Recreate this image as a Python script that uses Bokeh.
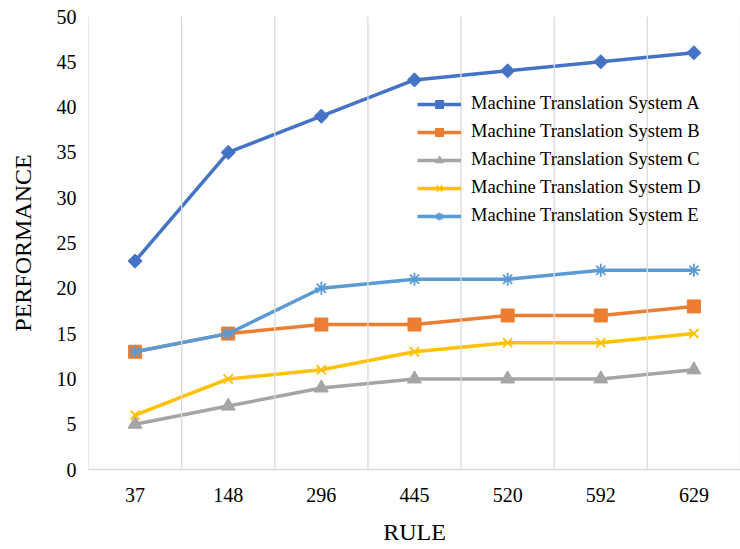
import math
from bokeh.plotting import figure
from bokeh.models import FactorRange, Range1d, Span, FixedTicker, Legend
from bokeh.embed import file_html
from bokeh.resources import INLINE

rules = ["37", "148", "296", "445", "520", "592", "629"]
sys_a = [23, 35, 39, 43, 44, 45, 46]
sys_b = [13, 15, 16, 16, 17, 17, 18]
sys_c = [5, 7, 9, 10, 10, 10, 11]
sys_d = [6, 10, 11, 13, 14, 14, 15]
sys_e = [13, 15, 20, 21, 21, 22, 22]
names = ["Machine Translation System A", "Machine Translation System B",
         "Machine Translation System C", "Machine Translation System D",
         "Machine Translation System E"]
y_ticks = [0, 5, 10, 15, 20, 25, 30, 35, 40, 45, 50]

FONT = "Liberation Serif"

p = figure(width=740, height=549, x_range=FactorRange(*rules, range_padding=0),
           y_range=Range1d(0, 50), output_backend="svg", toolbar_location=None,
           min_border_left=88, min_border_right=0, min_border_top=16, min_border_bottom=80)
p.outline_line_color = None
p.background_fill_color = "white"
p.border_fill_color = "white"
p.xgrid.visible = False
p.ygrid.visible = False

for i in range(len(rules) + 1):
    p.add_layout(Span(location=i, dimension="height", line_color="#d9d9d9", line_width=1.3))

p.yaxis.ticker = FixedTicker(ticks=y_ticks)
for ax in (p.xaxis[0], p.yaxis[0]):
    ax.major_tick_line_color = None
    ax.minor_tick_line_color = None
    ax.axis_line_color = "#d9d9d9"
    ax.axis_line_width = 1.3
    ax.major_label_text_font = FONT
    ax.major_label_text_font_size = "20px"
    ax.major_label_text_color = "#000000"
    ax.axis_label_text_font = FONT
    ax.axis_label_text_font_size = "24px"
    ax.axis_label_text_font_style = "normal"
    ax.axis_label_text_color = "#000000"
p.yaxis.axis_line_color = None
p.xaxis.axis_label = "RULE"
p.yaxis.axis_label = "PERFORMANCE"
p.xaxis.major_label_standoff = 12
p.xaxis.axis_label_standoff = 14
p.yaxis.major_label_standoff = 6
p.yaxis.axis_label_standoff = 18

series = [
    (sys_a, "#4472C4", "square", 10, math.pi / 4),
    (sys_b, "#ED7D31", "square", 13, 0),
    (sys_c, "#A5A5A5", "triangle", 14, 0),
    (sys_d, "#FFC000", "x", 13, 0),
    (sys_e, "#5B9BD5", "asterisk", 13, 0),
]
items = []
for (vals, color, marker, size, ang), name in zip(series, names):
    l = p.line(rules, vals, line_color=color, line_width=3.5)
    if marker in ("x", "asterisk"):
        s = p.scatter(rules, vals, marker=marker, size=size, line_color=color,
                      line_width=1.8, fill_color=None)
    else:
        s = p.scatter(rules, vals, marker=marker, size=size, angle=ang,
                      line_color=color, fill_color=color)
    items.append((name, [l, s]))

legend = Legend(items=items, location=(329, 243), orientation="vertical",
                background_fill_alpha=0, border_line_color=None,
                label_text_font=FONT, label_text_font_size="18.5px",
                label_text_color="#000000", glyph_width=44, glyph_height=20,
                label_height=20, label_standoff=10, spacing=7, padding=0, margin=0)
p.add_layout(legend, "center")

open("out.html", "w").write(file_html(p, INLINE))
